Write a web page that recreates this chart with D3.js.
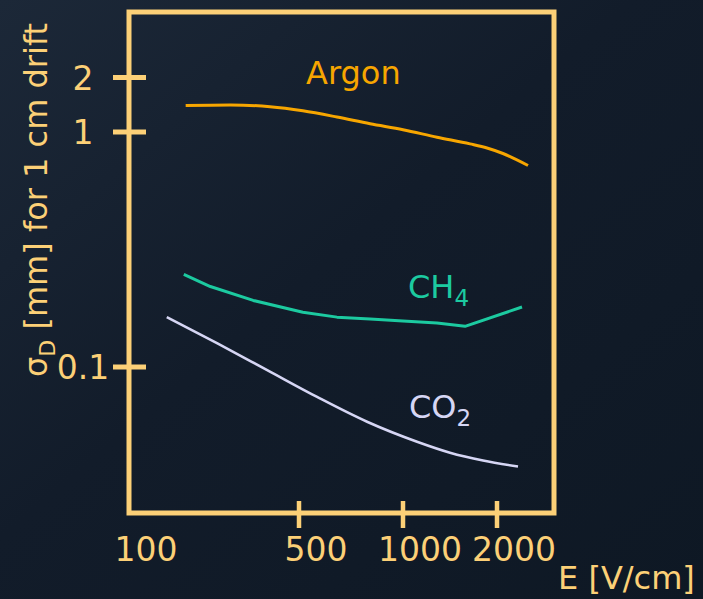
<!DOCTYPE html>
<html>
<head>
<meta charset="utf-8">
<script src="https://cdn.jsdelivr.net/npm/d3@7"></script>
<style>
  html, body { margin: 0; padding: 0; background: #111b28; }
  svg { display: block; }
</style>
</head>
<body>
<script>
// ---------- data ----------
const xTicks = [100, 500, 1000, 2000];
const yTicks = [0.1, 1, 2];
const xTickLabels = ["100", "500", "1000", "2000"];
const yTickLabels = ["0.1", "1", "2"];

const argonE     = [171, 261, 380, 513, 644, 803, 1000, 1285, 1639, 1858, 2090, 2514];
const argonSigma = [1.40, 1.41, 1.38, 1.31, 1.21, 1.11, 1.03, 0.95, 0.89, 0.855, 0.81, 0.72];

const ch4E       = [168, 216, 324, 513, 644, 803, 1000, 1285, 1580, 2405];
const ch4Sigma   = [0.248, 0.220, 0.192, 0.171, 0.163, 0.160, 0.157, 0.154, 0.149, 0.180];

const co2E       = [143, 231, 370, 564, 787, 1109, 1414, 1804, 2335];
const co2Sigma   = [0.163, 0.126, 0.097, 0.0746, 0.0585, 0.0481, 0.0432, 0.0400, 0.0377];

// ---------- layout ----------
const W = 703, H = 599;
const frame = { left: 129, top: 12, right: 554, bottom: 513 };
const gold = "#fcd077";
const font = "'DejaVu Sans', Verdana, sans-serif";

const svg = d3.select("body").append("svg").attr("width", W).attr("height", H);

// background
const defs = svg.append("defs");
const bg = defs.append("linearGradient").attr("id", "bg")
  .attr("x1", "0").attr("y1", "0").attr("x2", "1").attr("y2", "1");
bg.append("stop").attr("offset", "0").attr("stop-color", "#1c2838");
bg.append("stop").attr("offset", "0.45").attr("stop-color", "#121c2a");
bg.append("stop").attr("offset", "1").attr("stop-color", "#0e1824");
svg.append("rect").attr("width", W).attr("height", H).attr("fill", "url(#bg)");

// scales (hand-drawn slide axes: piecewise log)
const x = d3.scaleLog().domain(xTicks).range([129, 299, 403, 497]);
const y = d3.scaleLog().domain(yTicks).range([367, 132, 77.5]);

// frame
svg.append("rect")
  .attr("x", frame.left).attr("y", frame.top)
  .attr("width", frame.right - frame.left).attr("height", frame.bottom - frame.top)
  .attr("fill", "none").attr("stroke", gold).attr("stroke-width", 5);

// x ticks (100 sits on the frame corner)
svg.append("g").selectAll("line").data(xTicks.slice(1)).join("line")
  .attr("x1", d => x(d)).attr("x2", d => x(d))
  .attr("y1", frame.bottom - 12).attr("y2", frame.bottom + 15)
  .attr("stroke", gold).attr("stroke-width", 4.5);

svg.append("g").selectAll("text").data(xTicks).join("text")
  .attr("x", d => x(d) + 17)
  .attr("y", 561)
  .attr("text-anchor", "middle")
  .attr("font-family", font).attr("font-size", 33).attr("fill", gold)
  .text((d, i) => xTickLabels[i]);

// y ticks
svg.append("g").selectAll("line").data(yTicks).join("line")
  .attr("x1", frame.left - 16).attr("x2", frame.left + 17)
  .attr("y1", d => y(d)).attr("y2", d => y(d))
  .attr("stroke", gold).attr("stroke-width", 5);

svg.append("g").selectAll("text").data(yTicks).join("text")
  .attr("x", 83)
  .attr("y", d => y(d) + 12)
  .attr("text-anchor", "middle")
  .attr("font-family", font).attr("font-size", 33).attr("fill", gold)
  .text((d, i) => yTickLabels[i]);

// axis titles
svg.append("text")
  .attr("x", 558).attr("y", 589)
  .attr("font-family", font).attr("font-size", 32).attr("fill", gold)
  .text("E [V/cm]");

const yt = svg.append("text")
  .attr("transform", "translate(47,377) rotate(-90)")
  .attr("font-family", font).attr("font-size", 32).attr("fill", gold);
yt.append("tspan").text("σ");
yt.append("tspan").attr("font-size", 22).attr("dy", 8).text("D");
yt.append("tspan").attr("dy", -8).text(" [mm] for 1 cm drift");

// curves
const line = curve => d3.line().x(d => x(d[0])).y(d => y(d[1])).curve(curve);

const series = [
  { E: argonE, S: argonSigma, color: "#f7a600", width: 3, curve: d3.curveMonotoneX },
  { E: ch4E,   S: ch4Sigma,   color: "#1ccaa0", width: 3, curve: d3.curveLinear },
  { E: co2E,   S: co2Sigma,   color: "#d6d6f4", width: 2.6, curve: d3.curveMonotoneX }
];
series.forEach(s => {
  svg.append("path")
    .datum(d3.zip(s.E, s.S))
    .attr("fill", "none")
    .attr("stroke", s.color)
    .attr("stroke-width", s.width)
    .attr("stroke-linejoin", "round")
    .attr("d", line(s.curve));
});

// series labels
svg.append("text").attr("x", 306).attr("y", 84)
  .attr("font-family", font).attr("font-size", 32).attr("fill", "#f7a600")
  .text("Argon");

const ch4t = svg.append("text").attr("x", 408).attr("y", 298)
  .attr("font-family", font).attr("font-size", 32).attr("fill", "#1ccaa0");
ch4t.append("tspan").text("CH");
ch4t.append("tspan").attr("font-size", 23).attr("dy", 8).text("4");

const co2t = svg.append("text").attr("x", 409).attr("y", 418)
  .attr("font-family", font).attr("font-size", 32).attr("fill", "#d6d6f4");
co2t.append("tspan").text("CO");
co2t.append("tspan").attr("font-size", 23).attr("dy", 8).text("2");
</script>
</body>
</html>
